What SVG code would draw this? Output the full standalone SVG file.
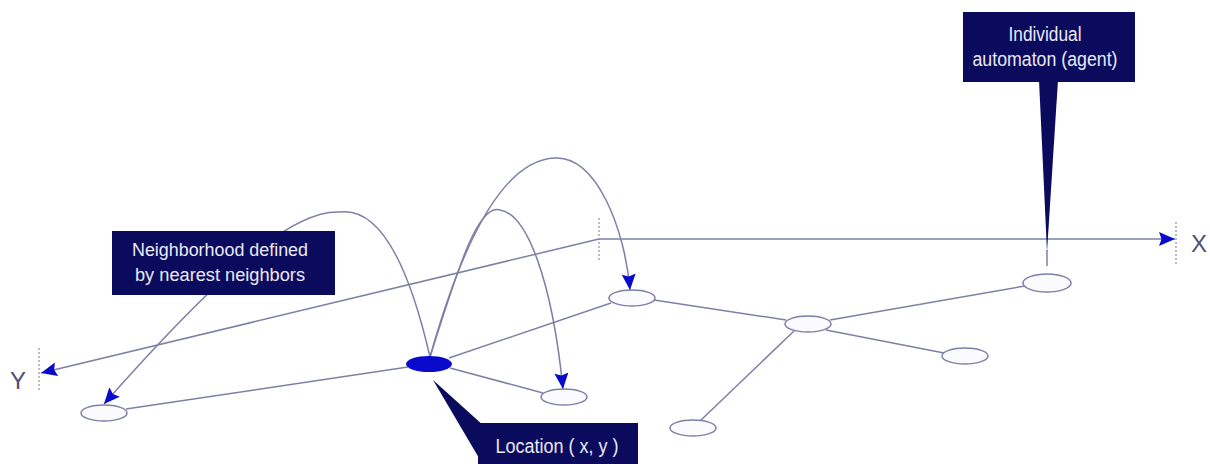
<svg xmlns="http://www.w3.org/2000/svg" width="1210" height="464" viewBox="0 0 1210 464">
  <defs>
    <style>
      .ln { fill: none; stroke: #7d80a6; stroke-width: 1.5; }
      .tick { fill: none; stroke: #8a8fa8; stroke-width: 1.2; stroke-dasharray: 2 2; }
      .node { fill: #fbfbff; stroke: #7d80a6; stroke-width: 1.5; }
      .box { fill: #0b0b5e; }
      .lbl { fill: #eaeaf4; font-family: "Liberation Sans", Arial, sans-serif; text-anchor: middle; }
      .axis { fill: #50507a; font-family: "Liberation Sans", Arial, sans-serif; font-size: 24px; }
    </style>
    <marker id="arr" markerUnits="userSpaceOnUse" markerWidth="18" markerHeight="16" refX="16" refY="7" orient="auto">
      <path d="M0,0 L16,7 L0,14 L2.5,7 z" fill="#0a0acc"/>
    </marker>
  </defs>

  <g id="axes">
    <line class="ln" x1="599" y1="239" x2="1175" y2="239" marker-end="url(#arr)"/>
    <line class="ln" x1="599" y1="239" x2="41" y2="373" marker-end="url(#arr)"/>
    <line class="tick" x1="599" y1="218" x2="599" y2="262"/>
    <line class="tick" x1="1176" y1="222" x2="1176" y2="264"/>
    <line class="tick" x1="39" y1="348" x2="39" y2="390"/>
    <text class="axis" x="1191" y="252">X</text>
    <text class="axis" x="10" y="389">Y</text>
  </g>

  <g id="connectors">
    <line class="ln" x1="126" y1="409" x2="408" y2="367"/>
    <line class="ln" x1="449" y1="358" x2="611" y2="303"/>
    <line class="ln" x1="450" y1="368" x2="543" y2="393"/>
    <line class="ln" x1="654" y1="300" x2="786" y2="320"/>
    <line class="ln" x1="830" y1="320" x2="1025" y2="286"/>
    <line class="ln" x1="826" y1="330" x2="944" y2="353"/>
    <line class="ln" x1="794" y1="331" x2="700" y2="421"/>
    <path class="ln" d="M430,357 Q395,205 340,212 C300,210 240,250 104,404" marker-end="url(#arr)"/>
    <path class="ln" d="M430,357 C458,268 478,203 500,210 C527,214 552,280 563,389" marker-end="url(#arr)"/>
    <path class="ln" d="M430,357 C460,250 500,160 555,158 C597,156 625,230 630,290" marker-end="url(#arr)"/>
    <line class="ln" x1="1047" y1="250" x2="1047" y2="266"/>
  </g>

  <g id="node-left"><ellipse class="node" cx="104" cy="413" rx="23" ry="8"/></g>
  <g id="node-location"><ellipse cx="429" cy="364" rx="23" ry="8" fill="#0a0acc"/></g>
  <g id="node-lower"><ellipse class="node" cx="564" cy="397" rx="23" ry="8"/></g>
  <g id="node-upper"><ellipse class="node" cx="632" cy="298" rx="23" ry="8"/></g>
  <g id="node-hub"><ellipse class="node" cx="808" cy="324" rx="23" ry="8"/></g>
  <g id="node-right"><ellipse class="node" cx="965" cy="356" rx="23" ry="8"/></g>
  <g id="node-bottom"><ellipse class="node" cx="693" cy="428" rx="23" ry="8"/></g>
  <g id="node-agent"><ellipse class="node" cx="1047" cy="283" rx="24" ry="9"/></g>

  <g id="callout-neighborhood">
    <rect class="box" x="112" y="231" width="223" height="64"/>
    <text class="lbl" x="220" y="256" font-size="18" textLength="176" lengthAdjust="spacingAndGlyphs">Neighborhood defined</text>
    <text class="lbl" x="220" y="281" font-size="18" textLength="170" lengthAdjust="spacingAndGlyphs">by nearest neighbors</text>
  </g>

  <g id="callout-agent">
    <polygon class="box" points="1039,80 1058,80 1047,252"/>
    <rect class="box" x="963" y="12" width="172" height="70"/>
    <text class="lbl" x="1045" y="41" font-size="20" textLength="73" lengthAdjust="spacingAndGlyphs">Individual</text>
    <text class="lbl" x="1045" y="66" font-size="20" textLength="145" lengthAdjust="spacingAndGlyphs">automaton (agent)</text>
  </g>

  <g id="callout-location">
    <polygon class="box" points="433,380 484,426 479,458"/>
    <rect class="box" x="478" y="423" width="160" height="45"/>
    <text class="lbl" x="557" y="453" font-size="20" textLength="123" lengthAdjust="spacingAndGlyphs">Location ( x, y )</text>
  </g>
</svg>
